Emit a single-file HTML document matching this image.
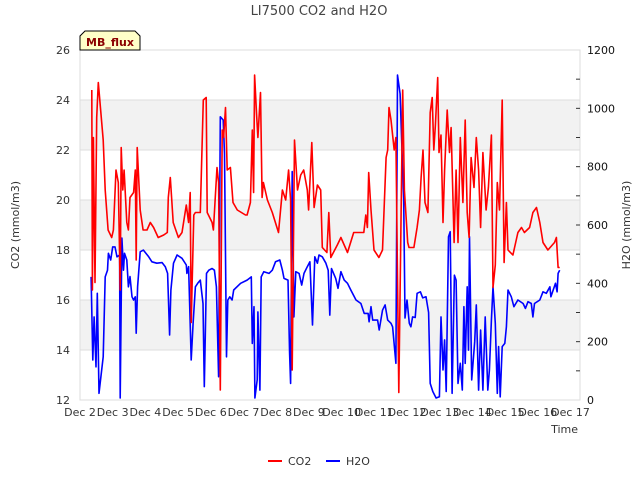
<!DOCTYPE html>
<html><head><meta charset="utf-8"><style>
body{margin:0;background:#fff;font-family:"Liberation Sans","DejaVu Sans",sans-serif}
svg text{font-family:"DejaVu Sans","Liberation Sans",sans-serif}
</style></head><body>
<svg id="chart" width="640" height="480" xmlns="http://www.w3.org/2000/svg">
<text x="319" y="15" text-anchor="middle" font-size="13" fill="#444">LI7500 CO2 and H2O</text>
<g id="bands"></g><g id="grid"></g>
<rect x="80" y="50" width="500" height="350" fill="none" stroke="#ddd"/>
<g id="series"></g><g id="axes"></g>
<text transform="translate(19,225) rotate(-90)" text-anchor="middle" font-size="11" fill="#333">CO2 (mmol/m3)</text>
<text transform="translate(630,225) rotate(-90)" text-anchor="middle" font-size="11" fill="#333">H2O (mmol/m3)</text>
<text x="578" y="433" text-anchor="end" font-size="11" fill="#333">Time</text>
<g>
<path d="M80,50 L80,36 L85,31 L135,31 L140,36 L140,50 Z" fill="#ffffc8" stroke="#000" stroke-width="1"/>
<text x="110" y="46" text-anchor="middle" font-size="11" font-weight="bold" fill="#8b0000">MB_flux</text></g>
<g><line x1="268" y1="461" x2="282" y2="461" stroke="#f00" stroke-width="2"/><text x="288" y="465" font-size="11" fill="#333">CO2</text></g>
<g><line x1="326" y1="461" x2="340" y2="461" stroke="#00f" stroke-width="2"/><text x="346" y="465" font-size="11" fill="#333">H2O</text></g>
</svg>
<script>
const xTickLabels=["Dec 2","Dec 3","Dec 4","Dec 5","Dec 6","Dec 7","Dec 8","Dec 9","Dec 10","Dec 11","Dec 12","Dec 13","Dec 14","Dec 15","Dec 16","Dec 17"];
const leftTicks=[12,14,16,18,20,22,24,26];
const rightTicks=[0,200,400,600,800,1000,1200];
const co2Days=[0.36,0.38,0.41,0.46,0.51,0.56,0.71,0.77,0.86,0.97,1.02,1.10,1.17,1.23,1.26,1.31,1.35,1.43,1.48,1.53,1.64,1.69,1.72,1.75,1.84,1.93,2.05,2.15,2.25,2.39,2.56,2.67,2.70,2.76,2.85,3.01,3.12,3.25,3.32,3.37,3.40,3.48,3.53,3.68,3.77,3.86,3.89,4.04,4.08,4.19,4.24,4.29,4.35,4.39,4.45,4.50,4.60,4.68,4.81,5.06,5.11,5.21,5.27,5.31,5.34,5.40,5.44,5.52,5.57,5.61,5.73,5.88,6.07,6.19,6.29,6.38,6.44,6.49,6.56,6.65,6.75,6.84,6.95,6.99,7.09,7.16,7.26,7.36,7.41,7.55,7.61,7.67,7.87,7.98,8.18,8.37,8.68,8.74,8.79,8.83,8.90,8.99,9.14,9.25,9.36,9.41,9.45,9.51,9.61,9.66,9.75,9.87,9.92,10.02,10.06,10.21,10.31,10.38,10.43,10.49,10.55,10.64,10.71,10.77,10.82,10.87,10.94,10.98,11.04,11.10,11.15,11.23,11.30,11.35,11.44,11.50,11.56,11.63,11.71,11.78,11.84,11.90,11.96,12.05,12.12,12.19,12.25,12.32,12.42,12.49,12.58,12.63,12.70,12.76,12.83,12.91,12.97,13.04,13.09,13.24,13.39,13.50,13.59,13.75,13.85,13.96,14.06,14.16,14.31,14.51,14.57,14.62,14.67];
const co2Values=[24.4,16.4,22.5,16.7,23.3,24.7,22.4,20.4,18.8,18.5,18.8,21.2,20.7,16.4,22.1,20.4,21.2,19.1,18.8,20.1,20.3,21.2,17.6,22.1,19.6,18.8,18.8,19.1,18.9,18.5,18.6,18.7,20.1,20.9,19.1,18.5,18.7,19.8,19.1,20.3,15.1,19.4,19.5,19.5,24.0,24.1,19.5,19.1,18.8,21.3,20.7,12.4,22.8,22.5,23.7,21.2,21.3,19.9,19.6,19.4,19.4,19.9,22.8,20.3,25.0,23.4,22.5,24.3,20.1,20.7,20.0,19.5,18.7,20.4,20.0,21.2,20.0,13.2,22.4,20.4,21.0,21.2,20.4,19.6,22.3,19.7,20.6,20.4,18.1,17.9,19.5,17.7,18.2,18.5,17.9,18.7,18.7,19.4,18.9,21.1,19.6,18.0,17.7,18.0,21.7,22.0,23.7,23.2,22.0,22.5,12.3,24.4,20.4,18.3,18.1,18.1,18.9,19.6,20.9,22.0,19.9,19.5,23.5,24.1,22.0,23.0,24.9,21.9,22.6,19.1,21.2,23.6,21.9,22.9,18.3,21.2,18.3,22.5,19.9,23.2,19.5,18.5,21.7,20.5,22.5,21.2,18.9,21.9,19.6,20.5,22.6,16.5,17.4,20.7,19.6,24.0,17.5,19.9,18.0,17.8,18.7,18.9,18.7,18.9,19.5,19.7,19.1,18.3,18.0,18.3,18.5,17.3,17.3];
const h2oDays=[0.34,0.39,0.43,0.49,0.53,0.58,0.71,0.77,0.84,0.87,0.94,1.00,1.07,1.13,1.21,1.23,1.28,1.33,1.36,1.43,1.48,1.53,1.59,1.64,1.69,1.72,1.76,1.84,1.94,2.10,2.20,2.35,2.51,2.61,2.68,2.74,2.78,2.86,2.97,3.12,3.25,3.27,3.32,3.40,3.46,3.53,3.60,3.68,3.76,3.80,3.87,3.94,4.04,4.11,4.17,4.24,4.29,4.38,4.42,4.48,4.52,4.58,4.65,4.70,4.91,5.11,5.24,5.27,5.32,5.35,5.42,5.44,5.50,5.54,5.62,5.78,5.88,5.98,6.11,6.19,6.24,6.36,6.41,6.44,6.49,6.54,6.60,6.70,6.78,6.85,6.95,7.03,7.11,7.18,7.26,7.31,7.41,7.52,7.59,7.64,7.69,7.82,7.89,7.98,8.08,8.18,8.28,8.44,8.59,8.69,8.81,8.84,8.90,8.95,9.10,9.15,9.25,9.33,9.41,9.51,9.56,9.66,9.71,9.79,9.90,9.94,10.00,10.07,10.12,10.17,10.25,10.31,10.41,10.48,10.58,10.66,10.71,10.79,10.89,10.99,11.04,11.10,11.15,11.20,11.27,11.32,11.38,11.45,11.50,11.56,11.63,11.69,11.74,11.78,11.84,11.88,11.91,11.98,12.07,12.12,12.19,12.25,12.32,12.39,12.47,12.52,12.58,12.63,12.70,12.76,12.80,12.85,12.91,12.99,13.04,13.09,13.19,13.27,13.39,13.55,13.62,13.70,13.80,13.85,13.90,14.06,14.16,14.26,14.37,14.40,14.47,14.54,14.59,14.62,14.67];
const h2oValues=[422,137,285,114,366,23,148,422,445,503,480,525,525,491,497,7,555,445,503,480,388,423,354,343,354,229,388,508,514,491,474,469,471,457,434,223,377,469,497,486,463,434,457,137,263,388,400,411,331,46,434,445,451,445,388,80,971,960,846,148,343,354,343,377,400,411,422,194,320,7,69,302,34,422,440,434,445,474,480,445,417,411,160,57,783,285,440,434,394,434,457,474,257,491,469,497,491,469,445,291,451,417,383,440,411,400,377,343,331,297,297,268,320,274,274,240,308,326,274,263,251,126,1114,1050,686,281,343,263,251,285,283,366,371,350,354,300,57,29,7,11,285,103,206,29,560,577,23,428,411,57,126,34,320,126,388,171,560,69,200,326,34,240,34,285,34,103,274,388,263,23,183,11,183,194,251,377,354,320,343,331,314,337,331,285,331,343,371,366,388,354,377,400,371,434,445];

const NS="http://www.w3.org/2000/svg";
const X0=80,X1=580,Y0=400,Y1=50;
function xs(d){return X0+d*32.7;}
function yl(v){return Y0-(v-12)/14*(Y0-Y1);}
function yr(v){return Y0-v/1200*(Y0-Y1);}
function mk(tag,attrs,parent){const e=document.createElementNS(NS,tag);for(const k in attrs)e.setAttribute(k,attrs[k]);parent.appendChild(e);return e;}
const bands=document.getElementById('bands'),grid=document.getElementById('grid'),axes=document.getElementById('axes'),series=document.getElementById('series');
for(let i=0;i<leftTicks.length-1;i++){
  if(i%2===1){const b=mk('rect',{x:X0,y:yl(leftTicks[i+1]),width:X1-X0,height:yl(leftTicks[i])-yl(leftTicks[i+1]),fill:'#f2f2f2'},bands);
  
  }
}
leftTicks.forEach(v=>{
  const l=mk('line',{x1:X0,x2:X1,y1:yl(v),y2:yl(v),stroke:'#ddd'},grid);
  
  
  const t=mk('text',{x:X0-10,y:yl(v)+4,'text-anchor':'end','font-size':'11',fill:'#333'},axes);t.textContent=v;
  
  
});
rightTicks.forEach(v=>{
  const t=mk('text',{x:X1+7,y:yr(v)+4,'font-size':'11',fill:'#111'},axes);t.textContent=v;
  
  
});
for(let v=100;v<1200;v+=100){mk('line',{x1:X1-4,x2:X1,y1:yr(v),y2:yr(v),stroke:'#333'},axes);}
xTickLabels.forEach((s,i)=>{
  const t=mk('text',{x:xs(i),y:Y0+16,'text-anchor':'middle','font-size':'11',fill:'#333'},axes);t.textContent=s;
  
  
});
const h=mk('polyline',{points:h2oDays.map((d,i)=>xs(d).toFixed(1)+','+yr(h2oValues[i]).toFixed(1)).join(' '),fill:'none',stroke:'#00f','stroke-width':'1.6','stroke-linejoin':'round'},series);


const c=mk('polyline',{points:co2Days.map((d,i)=>xs(d).toFixed(1)+','+yl(co2Values[i]).toFixed(1)).join(' '),fill:'none',stroke:'#f00','stroke-width':'1.6','stroke-linejoin':'round'},series);


</script>
</body></html>
